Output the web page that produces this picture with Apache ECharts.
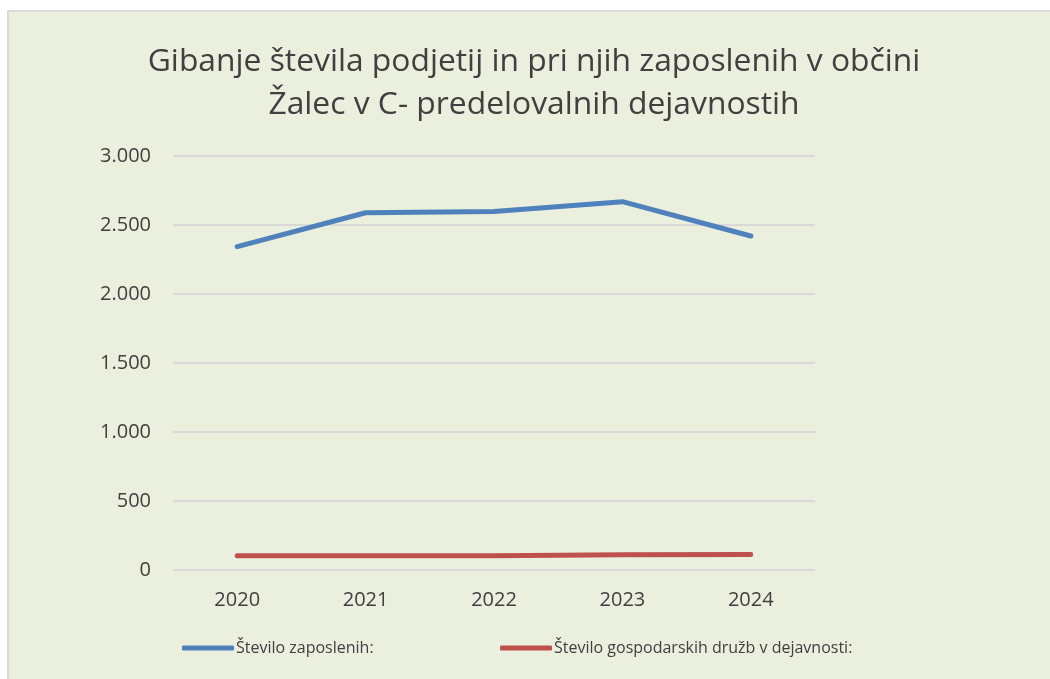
<!DOCTYPE html>
<html>
<head>
<meta charset="utf-8">
<script src="https://cdn.jsdelivr.net/npm/echarts@6/dist/echarts.min.js"></script>
<style>
html,body{margin:0;padding:0;background:#ffffff;width:1050px;height:679px;overflow:hidden;}
#bg{position:absolute;left:7px;top:10px;width:1043px;height:669px;background:#EBEFDE;border-top:2px solid #D9D9D9;border-left:2px solid #D9D9D9;box-sizing:border-box;}
#chart{position:absolute;left:0;top:0;width:1050px;height:679px;}
</style>
</head>
<body>
<div id="bg"></div>
<div id="chart"></div>
<script>
const titleText = 'Gibanje števila podjetij in pri njih zaposlenih v občini\nŽalec v C- predelovalnih dejavnostih';
const categories = ['2020', '2021', '2022', '2023', '2024'];
const seriesNames = ['Število zaposlenih:', 'Število gospodarskih družb v dejavnosti:'];
const employees = [2343, 2589, 2597, 2669, 2420];
const companies = [103, 103, 104, 110, 113];
const yTicks = [0, 500, 1000, 1500, 2000, 2500, 3000];

function fmt(v){ return String(v).replace(/\B(?=(\d{3})+(?!\d))/g, '.'); }

const chart = echarts.init(document.getElementById('chart'), null, {renderer:'canvas'});
const fontFam = 'Open Sans';
const legendBase = {
  top: 640,
  padding: 0,
  itemWidth: 52,
  itemHeight: 5,
  icon: 'roundRect',
  textStyle: {fontFamily: fontFam, fontSize: 16, color: '#404040', padding: [0,0,0,-3]}
};
chart.setOption({
  backgroundColor: 'transparent',
  animation: false,
  title: {
    text: titleText,
    left: 534,
    textAlign: 'center',
    top: 40,
    padding: 0,
    textStyle: {fontFamily: fontFam, fontSize: 31.8, fontWeight: 'normal', color: '#404040', lineHeight: 43}
  },
  legend: [
    Object.assign({}, legendBase, {left: 182, data: [seriesNames[0]]}),
    Object.assign({}, legendBase, {left: 500, data: [seriesNames[1]]})
  ],
  grid: {left: 173, right: 235, top: 156, bottom: 109, containLabel: false},
  xAxis: {
    type: 'category',
    data: categories,
    boundaryGap: true,
    axisLine: {show: false},
    axisTick: {show: false},
    axisLabel: {fontFamily: fontFam, fontSize: 20, color: '#404040', margin: 20}
  },
  yAxis: {
    type: 'value',
    min: yTicks[0],
    max: yTicks[yTicks.length-1],
    interval: yTicks[1]-yTicks[0],
    axisLine: {show: false},
    axisTick: {show: false},
    splitLine: {lineStyle: {color: '#D9D9D9', width: 2}},
    axisLabel: {fontFamily: fontFam, fontSize: 20, color: '#404040', margin: 22, formatter: fmt}
  },
  series: [
    {name: seriesNames[0], type: 'line', data: employees, symbol: 'none', lineStyle: {color: '#4F81BD', width: 5, cap: 'round', join: 'round'}, itemStyle: {color: '#4F81BD'}},
    {name: seriesNames[1], type: 'line', data: companies, symbol: 'none', lineStyle: {color: '#C0504D', width: 5, cap: 'round', join: 'round'}, itemStyle: {color: '#C0504D'}}
  ]
});
</script>
</body>
</html>
